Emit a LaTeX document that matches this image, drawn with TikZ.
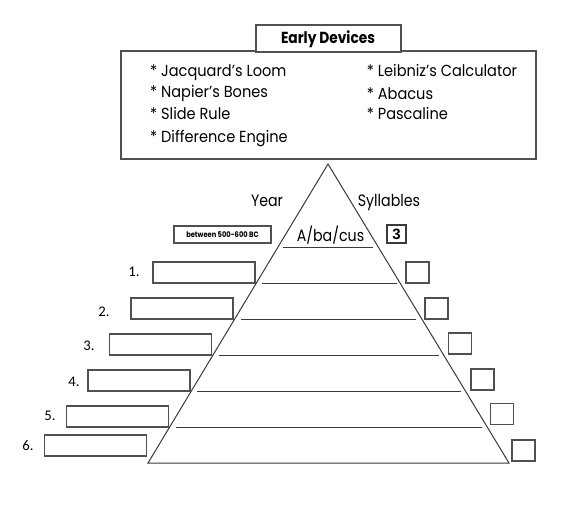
\documentclass[tikz,border=0pt]{standalone}
\usepackage{fontspec}
\setmainfont{Poppins}
\newfontfamily\gothic[FakeStretch=0.86]{Poppins}
\newfontfamily\listfont[FakeStretch=0.91]{Poppins}
\newfontfamily\numfont{Carlito}
\newfontfamily\arialb{Liberation Sans}
\definecolor{lineclr}{HTML}{3A3A3A}
\definecolor{boxclr}{HTML}{505050}
\begin{document}
\begin{tikzpicture}[x=1pt,y=-1pt,
  outline/.style={draw=boxclr, line width=1.1pt},
  ansbox/.style={draw=boxclr, line width=1.1pt, minimum width=102pt, minimum height=21pt, inner sep=0pt},
  sylbox/.style={draw=boxclr, line width=1.1pt, minimum width=23pt, minimum height=21pt, inner sep=0pt},
  listitem/.style={anchor=base west, inner sep=0pt, font=\listfont\fontsize{16}{18}\selectfont},
  numlabel/.style={inner sep=0pt, font=\numfont\fontsize{14.7}{17}\selectfont},
  headtext/.style={anchor=base, inner sep=0pt, font=\gothic\fontsize{16.5}{18}\selectfont},
  rowline/.style={draw=lineclr, line width=1pt}
]
\useasboundingbox (0,0) rectangle (588,504);

% header boxes
\node[outline, minimum width=415pt, minimum height=108pt, inner sep=0pt] (devbox) at (328.5,105) {};
\node[outline, fill=white, minimum width=145pt, minimum height=27pt, inner sep=0pt] (titlebox) at (328.5,38.5) {};
\node[anchor=base, inner sep=0pt, font=\gothic\bfseries\fontsize{16}{18}\selectfont] (title) at (328,43.3) {Early Devices};

% device list
\node[listitem] (d1) at (150,76) {* Jacquard’s Loom};
\node[listitem] (d2) at (150,97.7) {* Napier’s Bones};
\node[listitem] (d3) at (150,119.3) {* Slide Rule};
\node[listitem] (d4) at (150,142.3) {* Difference Engine};
\node[listitem] (d5) at (366.7,76.7) {* Leibniz’s Calculator};
\node[listitem] (d6) at (366.7,99.3) {* Abacus};
\node[listitem] (d7) at (366.7,119.3) {* Pascaline};

% pyramid
\coordinate (apex) at (328,164);
\coordinate (bl) at (148,463);
\coordinate (br) at (509,463);
\draw[draw=lineclr, line width=1pt, line join=miter] (apex) -- (bl) -- (br) -- cycle;

% column headings
\node[headtext] (year) at (267,206) {Year};
\node[headtext] (syl) at (389,206) {Syllables};

% example row
\node[outline, minimum width=97pt, minimum height=17pt, inner sep=0pt,
      font=\gothic\bfseries\fontsize{7.8}{9}\selectfont] (exyear) at (222.5,234.5) {between 500-600 BC};
\node[anchor=base, inner sep=0pt, font=\gothic\fontsize{16.5}{19}\selectfont] (exword) at (330.5,241) {A/ba/cus};
\node[draw=lineclr, line width=1.4pt, minimum width=19pt, minimum height=18pt, inner sep=0pt,
      font=\arialb\bfseries\fontsize{15}{17}\selectfont] (exsyl) at (396.5,234) {3};
\draw[rowline] (283,247) -- (373,247);

% rows
\draw[rowline] (262,283) -- (397,283);
\draw[rowline] (241,319) -- (416,319);
\draw[rowline] (219,355) -- (439,355);
\draw[rowline] (197,391) -- (461,391);
\draw[rowline] (176,427) -- (482,427);

% answer boxes (year)
\node[ansbox] (y1) at (204,272.5) {};
\node[ansbox] (y2) at (182,308.5) {};
\node[ansbox] (y3) at (160.5,344.5) {};
\node[ansbox] (y4) at (139,380.5) {};
\node[ansbox] (y5) at (117.5,416.5) {};
\node[ansbox] (y6) at (95.5,445.5) {};

% number labels
\node[numlabel] (n1) at (134,272) {1.};
\node[numlabel] (n2) at (104,312) {2.};
\node[numlabel] (n3) at (89,346) {3.};
\node[numlabel] (n4) at (74,382) {4.};
\node[numlabel] (n5) at (50,416) {5.};
\node[numlabel] (n6) at (28,446) {6.};

% syllable boxes
\node[sylbox] (s1) at (417.5,272.5) {};
\node[sylbox] (s2) at (436.5,308.5) {};
\node[sylbox] (s3) at (460,343.5) {};
\node[sylbox] (s4) at (482.5,379.5) {};
\node[sylbox] (s5) at (502,414) {};
\node[sylbox] (s6) at (523.5,450.5) {};
\end{tikzpicture}
\end{document}
